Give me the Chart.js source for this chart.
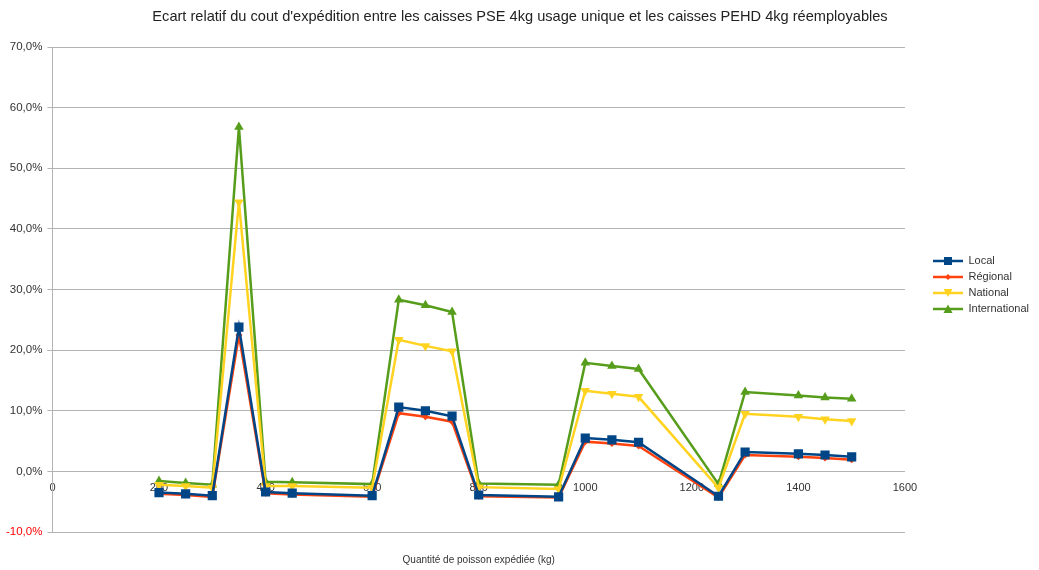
<!DOCTYPE html>
<html>
<head>
<meta charset="utf-8">
<script src="https://cdn.jsdelivr.net/npm/chart.js@4/dist/chart.umd.min.js"></script>
<style>
  html, body { margin: 0; padding: 0; background: #fff; }
  #wrap { width: 1039px; height: 570px; }
</style>
</head>
<body>
<div id="wrap"><canvas id="chart"></canvas></div>
<script>
// Quantité expédiée (kg)
const quantities = [200, 250, 300, 350, 400, 450, 600, 650, 700, 750, 800, 950, 1000, 1050, 1100, 1250, 1300, 1400, 1450, 1500];

// Ecart relatif (%)
const local = [-3.5, -3.7, -4.0, 23.8, -3.4, -3.6, -4.0, 10.6, 10.0, 9.1, -3.9, -4.2, 5.5, 5.2, 4.8, -4.1, 3.2, 2.9, 2.7, 2.4];
const regional = [-3.7, -3.9, -4.2, 22.5, -3.6, -3.8, -4.2, 9.6, 9.0, 8.2, -4.1, -4.3, 4.9, 4.6, 4.2, -4.3, 2.7, 2.4, 2.2, 1.9];
const national = [-2.2, -2.4, -2.7, 44.4, -2.4, -2.4, -2.7, 21.7, 20.7, 19.8, -2.6, -2.9, 13.3, 12.8, 12.3, -2.7, 9.5, 9.0, 8.6, 8.3];
const international = [-1.6, -1.9, -2.2, 56.8, -1.7, -1.8, -2.1, 28.3, 27.4, 26.3, -2.0, -2.2, 17.9, 17.4, 16.9, -2.1, 13.1, 12.5, 12.2, 12.0];

const yTicks = [-10, 0, 10, 20, 30, 40, 50, 60, 70];

const seriesNames = ['Local', 'Régional', 'National', 'International'];
const seriesColors = ['#004586', '#ff420e', '#ffd320', '#579d1c'];

const FONT = 'Liberation Sans, Arial, sans-serif';

function toPoints(values) {
    return quantities.map((q, i) => ({ x: q, y: values[i] }));
}

// small line + marker icon for the legend
function legendIcon(color, style) {
    const c = document.createElement('canvas');
    c.width = 30;
    c.height = 12;
    const g = c.getContext('2d');
    g.strokeStyle = color;
    g.fillStyle = color;
    g.lineWidth = 2.5;
    g.beginPath();
    g.moveTo(0, 6);
    g.lineTo(30, 6);
    g.stroke();
    g.beginPath();
    if (style === 'square') {
        g.rect(11, 2, 8, 8);
    } else if (style === 'diamond') {
        g.moveTo(15, 3); g.lineTo(18, 6); g.lineTo(15, 9); g.lineTo(12, 6);
    } else if (style === 'down') {
        g.moveTo(10.5, 2); g.lineTo(19.5, 2); g.lineTo(15, 10);
    } else {
        g.moveTo(15, 1.5); g.lineTo(19.5, 10); g.lineTo(10.5, 10);
    }
    g.closePath();
    g.fill();
    return c;
}

const icons = [
    legendIcon(seriesColors[0], 'square'),
    legendIcon(seriesColors[1], 'diamond'),
    legendIcon(seriesColors[2], 'down'),
    legendIcon(seriesColors[3], 'up')
];

const datasets = [
    { label: seriesNames[0], data: toPoints(local), pointStyle: 'rect', pointRadius: 6.5, pointRotation: 0 },
    { label: seriesNames[1], data: toPoints(regional), pointStyle: 'rectRot', pointRadius: 3.5, pointRotation: 0 },
    { label: seriesNames[2], data: toPoints(national), pointStyle: 'triangle', pointRadius: 5.5, pointRotation: 180 },
    { label: seriesNames[3], data: toPoints(international), pointStyle: 'triangle', pointRadius: 5.5, pointRotation: 0 }
].map((d, i) => Object.assign(d, {
    borderColor: seriesColors[i],
    backgroundColor: seriesColors[i],
    pointBackgroundColor: seriesColors[i],
    pointBorderColor: seriesColors[i],
    pointBorderWidth: 0,
    pointHoverRadius: d.pointRadius,
    borderWidth: 2.5,
    tension: 0,
    fill: false
}));

new Chart(document.getElementById('chart'), {
    type: 'line',
    data: { datasets: datasets },
    options: {
        responsive: true,
        maintainAspectRatio: false,
        animation: false,
        layout: { padding: { left: 1, right: 0, top: 0, bottom: 0 } },
        plugins: {
            title: {
                display: true,
                text: 'Ecart relatif du cout d\'expédition entre les caisses PSE 4kg usage unique et les caisses PEHD 4kg réemployables',
                color: '#222222',
                font: { family: FONT, size: 14.6, weight: 'normal' },
                padding: { top: 8, bottom: 21.5 }
            },
            legend: {
                position: 'right',
                labels: {
                    usePointStyle: true,
                    pointStyleWidth: 30,
                    padding: 5,
                    color: '#333333',
                    font: { family: FONT, size: 11 },
                    generateLabels: function(chart) {
                        return chart.data.datasets.map((d, i) => ({
                            text: d.label,
                            pointStyle: icons[i],
                            fillStyle: seriesColors[i],
                            strokeStyle: seriesColors[i],
                            lineWidth: 0,
                            hidden: false,
                            datasetIndex: i,
                            fontColor: '#333333'
                        }));
                    }
                }
            },
            tooltip: { enabled: false }
        },
        scales: {
            x: {
                type: 'linear',
                position: { y: 0 },
                min: 0,
                max: 1600,
                grid: { display: false, drawTicks: false },
                border: { display: false },
                ticks: {
                    stepSize: 200,
                    padding: 10,
                    maxRotation: 0,
                    color: '#333333',
                    font: { family: FONT, size: 11 },
                    callback: v => String(v)
                }
            },
            xt: {
                type: 'linear',
                axis: 'x',
                position: 'bottom',
                grid: { display: false, drawTicks: false },
                border: { display: false },
                ticks: { display: false },
                title: {
                    display: true,
                    text: 'Quantité de poisson expédiée (kg)',
                    color: '#333333',
                    font: { family: FONT, size: 10 },
                    padding: { top: 22, bottom: 4 }
                }
            },
            y: {
                type: 'linear',
                position: 'left',
                min: yTicks[0],
                max: yTicks[yTicks.length - 1],
                afterBuildTicks: function(scale) {
                    scale.ticks = yTicks.map(v => ({ value: v }));
                },
                grid: { color: '#b3b3b3', lineWidth: 1, tickLength: 5, drawTicks: true },
                border: { color: '#b3b3b3' },
                ticks: {
                    padding: 5,
                    color: ctx => ctx.tick.value < 0 ? '#ff0000' : '#333333',
                    font: { family: FONT, size: 11.5 },
                    callback: v => v.toFixed(1).replace('.', ',') + '%'
                }
            },
            gap: {
                type: 'linear',
                axis: 'y',
                position: 'right',
                grid: { display: false, drawTicks: false },
                border: { display: false },
                ticks: { display: false },
                afterFit: function(scale) { scale.width = 23; }
            }
        }
    }
});
</script>
</body>
</html>
